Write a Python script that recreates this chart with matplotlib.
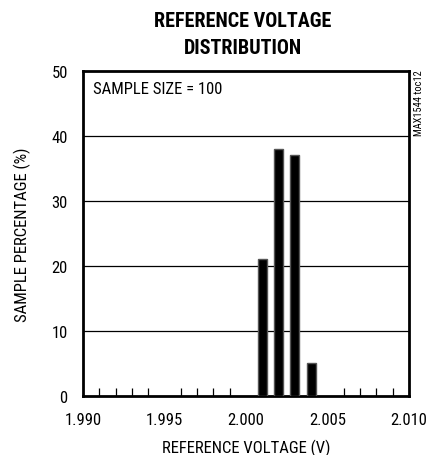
import matplotlib
matplotlib.use("Agg")
import matplotlib.pyplot as plt
from matplotlib import font_manager
from matplotlib.ticker import MultipleLocator

names = {f.name for f in font_manager.fontManager.ttflist}
cond = "Roboto Condensed" if "Roboto Condensed" in names else "Liberation Sans"
plt.rcParams['font.family'] = [cond, 'DejaVu Sans']

voltages = [2.001, 2.002, 2.003, 2.004]
percentages = [21, 38, 37, 5]
xticks = [1.990, 1.995, 2.000, 2.005, 2.010]
xticklabels = ["1.990", "1.995", "2.000", "2.005", "2.010"]
yticks = [0, 10, 20, 30, 40, 50]

fig = plt.figure(figsize=(4.29, 4.56), dpi=100)
ax = fig.add_axes([0.1935, 0.1303, 0.76, 0.7118])

ax.bar(voltages, percentages, width=0.00055, color='black', edgecolor='#555555',
       linewidth=1.0, zorder=3)
for y in [10, 20, 30, 40]:
    ax.axhline(y, color='black', linewidth=0.9, zorder=1)

ax.set_xlim(1.990, 2.010)
ax.set_ylim(0, 50)
ax.set_xticks(xticks)
ax.set_xticklabels(xticklabels)
ax.xaxis.set_minor_locator(MultipleLocator(0.001))
ax.tick_params(axis='x', which='major', length=0, labelsize=12, pad=12)
ax.tick_params(axis='x', which='minor', direction='in', length=6, width=0.9)
ax.set_yticks(yticks)
ax.tick_params(axis='y', which='major', length=0, labelsize=12, pad=11)
for s in ax.spines.values():
    s.set_linewidth(2)

ax.set_xlabel("REFERENCE VOLTAGE (V)", fontsize=12, labelpad=8)
ax.set_ylabel("SAMPLE PERCENTAGE (%)", fontsize=12, labelpad=15)
ax.text(0.03, 0.969, "SAMPLE SIZE = 100", transform=ax.transAxes, fontsize=12,
        va='top', ha='left')
fig.text(0.9765, 0.846, "MAX1544 toc12", rotation=90, fontsize=7.5, ha='center', va='top')
fig.text(0.566, 0.9414, "REFERENCE VOLTAGE", ha='center', va='baseline',
         fontsize=14.5, fontweight='bold')
fig.text(0.566, 0.8816, "DISTRIBUTION", ha='center', va='baseline',
         fontsize=14.5, fontweight='bold')

fig.savefig("out.png", dpi=100)
